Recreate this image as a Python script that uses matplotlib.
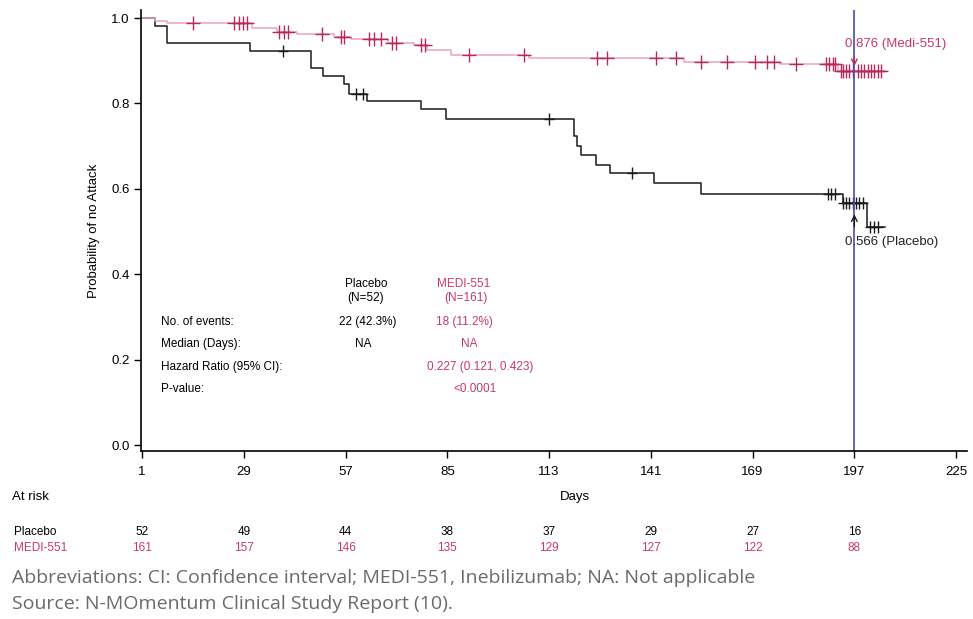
import numpy as np
import matplotlib
matplotlib.use("Agg")
import matplotlib.pyplot as plt
from matplotlib.transforms import blended_transform_factory

plt.rcParams['font.family'] = ['Liberation Sans Narrow', 'Liberation Sans', 'DejaVu Sans']

# ---- data ----
pla_t = [1, 4.6, 7.8, 30.7, 47.5, 50.8, 56.6, 58.0, 62.8, 77.7, 84.6, 119.8, 120.6, 121.9,
         125.8, 129.9, 141.8, 154.8, 193.8, 200.5, 205.3]
pla_s = [1.0, 0.981, 0.942, 0.923, 0.883, 0.864, 0.845, 0.823, 0.805, 0.786, 0.763, 0.723, 0.700,
         0.680, 0.657, 0.637, 0.614, 0.589, 0.566, 0.511, 0.511]
pla_cens = [39.7, 59.8, 61.7, 112.9, 135.8, 189.7, 190.6, 191.7, 193.8, 194.7, 195.6, 196.5,
            197.5, 198.4, 199.3, 201.4, 202.5, 203.6]

medi_t = [1, 4.6, 7.8, 31.3, 38.2, 43.7, 53.8, 58.4, 68.6, 75.8, 79.5, 85.9, 107.4, 150.0,
          176.6, 192.4, 205.7]
medi_s = [1.0, 0.994, 0.988, 0.976, 0.968, 0.962, 0.956, 0.950, 0.942, 0.937, 0.926, 0.914,
          0.907, 0.898, 0.893, 0.877, 0.877]
medi_cens = [14.9, 26.3, 27.7, 28.8, 30.0, 38.6, 40.2, 41.3, 50.6, 55.7, 56.6, 63.4, 64.8, 66.7,
             69.9, 70.8, 77.7, 78.8, 90.9, 106.0, 126.2, 128.9, 142.3, 147.8, 154.7, 161.9,
             169.8, 173.0, 174.8, 181.0, 189.2, 190.1, 191.0, 191.7, 193.3, 194.0, 194.8, 195.6,
             196.5, 197.9, 198.8, 199.7, 200.7, 201.6, 202.5, 203.4, 204.4]

xticks = [1, 29, 57, 85, 113, 141, 169, 197, 225]
risk_days = [1, 29, 57, 85, 113, 141, 169, 197]
risk_pla = [52, 49, 44, 38, 37, 29, 27, 16]
risk_medi = [161, 157, 146, 135, 129, 127, 122, 88]

landmark_day = 197
landmark_medi = 0.876
landmark_pla = 0.566

RED = '#c83a62'
PINK = '#e8a5b8'
MARK = '#b52a58'
BLUE = '#4a4ab8'


def km_at(t, times, surv):
    i = np.searchsorted(times, t, side='right') - 1
    return np.asarray(surv)[i]


fig = plt.figure(figsize=(9.73, 6.19), dpi=100)
ax = fig.add_axes([141 / 973, (619 - 451) / 619, 826 / 973, 441 / 619])

ax.step(pla_t, pla_s, where='post', color='#1a1a1a', lw=1.1)
ax.plot(pla_cens, km_at(pla_cens, pla_t, pla_s), ls='none', marker='|', ms=9, mew=1.0,
        color='#1a1a1a')
ax.plot(pla_cens, km_at(pla_cens, pla_t, pla_s), ls='none', marker='_', ms=7, mew=1.0,
        color='#1a1a1a')

ax.step(medi_t, medi_s, where='post', color=PINK, lw=1.1)
ax.plot(medi_cens, km_at(medi_cens, medi_t, medi_s), ls='none', marker='+', ms=10, mew=1.0,
        color=MARK)

ax.axvline(landmark_day, color=BLUE, lw=1.2)

# landmark annotations
ax.text(landmark_day - 2.5, 0.94, f'{landmark_medi:.3f} (Medi-551)', color=RED, fontsize=9.5,
        ha='left', va='center')
ax.annotate('', xy=(landmark_day, landmark_medi + 0.005), xytext=(landmark_day, 0.915),
            arrowprops=dict(arrowstyle='->', color=MARK, lw=1.0))
ax.text(landmark_day - 2.5, 0.475, f'{landmark_pla:.3f} (Placebo)', color='#222222', fontsize=9.5,
        ha='left', va='center')
ax.annotate('', xy=(landmark_day, 0.547), xytext=(landmark_day, 0.505),
            arrowprops=dict(arrowstyle='->', color='#1a1a1a', lw=1.0))

# summary table
fs = 8.5
ax.text(62.6, 0.377, 'Placebo', ha='center', va='center', fontsize=fs)
ax.text(62.6, 0.344, '(N=52)', ha='center', va='center', fontsize=fs)
ax.text(89.6, 0.377, 'MEDI-551', ha='center', va='center', fontsize=fs, color=RED)
ax.text(90.0, 0.344, '(N=161)', ha='center', va='center', fontsize=fs, color=RED)
rows = ['No. of events:', 'Median (Days):', 'Hazard Ratio (95% CI):', 'P-value:']
row_y = [0.288, 0.237, 0.183, 0.131]
for lab, yy in zip(rows, row_y):
    ax.text(6.2, yy, lab, ha='left', va='center', fontsize=fs)
ax.text(63.0, row_y[0], '22 (42.3%)', ha='center', va='center', fontsize=fs)
ax.text(62.0, row_y[1], 'NA', ha='center', va='center', fontsize=fs)
ax.text(89.8, row_y[0], '18 (11.2%)', ha='center', va='center', fontsize=fs, color=RED)
ax.text(91.0, row_y[1], 'NA', ha='center', va='center', fontsize=fs, color=RED)
ax.text(94.0, row_y[2], '0.227 (0.121, 0.423)', ha='center', va='center', fontsize=fs, color=RED)
ax.text(92.6, row_y[3], '<0.0001', ha='center', va='center', fontsize=fs, color=RED)

ax.set_xlim(0.72, 228)
ax.set_ylim(-0.014, 1.019)
ax.set_xticks(xticks)
ax.set_yticks([0.0, 0.2, 0.4, 0.6, 0.8, 1.0])
ax.set_yticklabels(['0.0', '0.2', '0.4', '0.6', '0.8', '1.0'])
ax.tick_params(direction='out', length=5, width=1, labelsize=9.5, pad=3)
ax.tick_params(axis='x', pad=6)
for s in ['top', 'right']:
    ax.spines[s].set_visible(False)
for s in ['left', 'bottom']:
    ax.spines[s].set_linewidth(1.2)
ax.set_ylabel('Probability of no Attack', fontsize=9.5, labelpad=8)

fig.text(575 / 973, 1 - 497 / 619, 'Days', ha='center', va='center', fontsize=9.5)

# number at risk
fig.text(12 / 973, 1 - 497 / 619, 'At risk', ha='left', va='center', fontsize=9.5)
fig.text(14 / 973, 1 - 532 / 619, 'Placebo', ha='left', va='center', fontsize=fs)
fig.text(14 / 973, 1 - 548 / 619, 'MEDI-551', ha='left', va='center', fontsize=fs, color=RED)
tr = blended_transform_factory(ax.transData, fig.transFigure)
for d, a, b in zip(risk_days, risk_pla, risk_medi):
    ax.text(d, 1 - 532 / 619, str(a), transform=tr, ha='center', va='center', fontsize=fs,
            clip_on=False)
    ax.text(d, 1 - 548 / 619, str(b), transform=tr, ha='center', va='center', fontsize=fs,
            color=RED, clip_on=False)

# footnotes
fig.text(12 / 973, 1 - 578 / 619,
         'Abbreviations: CI: Confidence interval; MEDI-551, Inebilizumab; NA: Not applicable',
         ha='left', va='center', fontsize=14, color='#6a6a6a', family=['Open Sans', 'DejaVu Sans'])
fig.text(12 / 973, 1 - 604 / 619, 'Source: N-MOmentum Clinical Study Report (10).',
         ha='left', va='center', fontsize=14, color='#6a6a6a', family=['Open Sans', 'DejaVu Sans'])

fig.savefig('out.png', dpi=100)
